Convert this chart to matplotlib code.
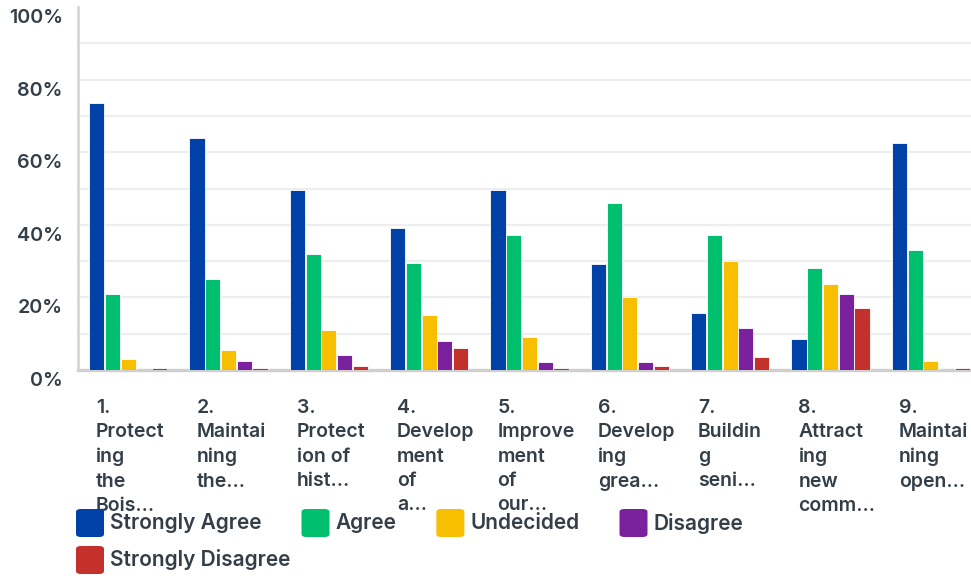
import matplotlib
matplotlib.use("Agg")
import matplotlib.pyplot as plt
from matplotlib.patches import FancyBboxPatch
from matplotlib.transforms import ScaledTranslation
import numpy as np

# ── data ──────────────────────────────────────────────────────────────────────
questions = [
    "1.\nProtect\ning\nthe\nBois...",
    "2.\nMaintai\nning\nthe...",
    "3.\nProtect\nion of\nhist...",
    "4.\nDevelop\nment\nof\na...",
    "5.\nImprove\nment\nof\nour...",
    "6.\nDevelop\ning\ngrea...",
    "7.\nBuildin\ng\nseni...",
    "8.\nAttract\ning\nnew\ncomm...",
    "9.\nMaintai\nning\nopen...",
]
answers = ["Strongly Agree", "Agree", "Undecided", "Disagree", "Strongly Disagree"]

strongly_agree    = [73.6, 63.9, 49.6, 39.1, 49.6, 29.2, 15.7,  8.5, 62.5]
agree             = [20.9, 25.1, 32.0, 29.5, 37.2, 46.0, 37.2, 28.1, 33.1]
undecided         = [ 3.0,  5.5, 11.0, 15.2,  9.1, 20.1, 30.0, 23.7,  2.5]
disagree          = [ 0.0,  2.5,  4.1,  8.0,  2.2,  2.2, 11.6, 20.9,  0.0]
strongly_disagree = [ 0.6,  0.6,  1.1,  6.1,  0.6,  1.1,  3.6, 17.1,  0.6]

yticks      = [0, 20, 40, 60, 80, 100]
ytick_texts = ["0%", "20%", "40%", "60%", "80%", "100%"]

colors = ["#0041A8", "#00BF6F", "#F8BE00", "#7A219E", "#C4302B"]
text_col = "#333e48"
font = ["Inter", "DejaVu Sans"]

# ── figure ────────────────────────────────────────────────────────────────────
W, H, DPI = 971, 576, 100
fig = plt.figure(figsize=(W / DPI, H / DPI), dpi=DPI)

# plot area: axis at x=78px, zero line at y=370px, 100% at y=7px (runs past the right edge)
ax = fig.add_axes([78 / W, (H - 370) / H, 903 / W, 363 / H])

series = [strongly_agree, agree, undecided, disagree, strongly_disagree]
x = np.arange(len(questions))
step, width = 0.157, 0.15
for k, (vals, col) in enumerate(zip(series, colors)):
    ax.bar(x + (k - 2) * step, vals, width=width, color=col,
           edgecolor="white", linewidth=0.6, zorder=3)

ax.set_xlim(-0.5, 8.5)
ax.set_ylim(0, 100)

for g in range(10, 100, 10):
    ax.axhline(g, color="#eeeeee", linewidth=1.6, zorder=1)

for side in ["top", "right"]:
    ax.spines[side].set_visible(False)
ax.spines["left"].set_color("#d3d3d3")
ax.spines["left"].set_linewidth(1.8)
ax.spines["bottom"].set_color("#cfcfcf")
ax.spines["bottom"].set_linewidth(2.4)
ax.spines["bottom"].set_zorder(2)

ax.set_xticks([])
ax.set_yticks(yticks)
ax.set_yticklabels(ytick_texts, fontsize=14.2, color=text_col,
                   fontfamily=font, fontweight="semibold")
ax.tick_params(axis="y", length=0, pad=11)
shift = ScaledTranslation(0, -9 / DPI, fig.dpi_scale_trans)
for lbl in ax.get_yticklabels():
    lbl.set_transform(lbl.get_transform() + shift)

for i, q in enumerate(questions):
    ax.text(i - 0.32, 0, q,
            transform=ax.transData + ScaledTranslation(0, -29 / DPI, fig.dpi_scale_trans),
            ha="left", va="top", fontsize=14, color=text_col,
            family=font, fontweight="semibold", linespacing=1.45, clip_on=False)

# ── legend (flowing, like the web version) ────────────────────────────────────
fig.canvas.draw()
renderer = fig.canvas.get_renderer()
rows = [answers[:4], answers[4:]]
row_y = [523, 560]
sq = 28
k = 0
for r, labels in enumerate(rows):
    xpos = 76
    yc = row_y[r]
    for name in labels:
        fig.patches.append(FancyBboxPatch(
            (xpos / W, (H - yc - sq / 2) / H), sq / W, sq / H,
            boxstyle="round,pad=0,rounding_size=0.005", transform=fig.transFigure,
            facecolor=colors[k], edgecolor="none"))
        t = fig.text((xpos + 34) / W, (H - yc) / H, name, ha="left", va="center",
                     fontsize=15, color=text_col, family=font, fontweight="semibold")
        bb = t.get_window_extent(renderer=renderer)
        xpos = bb.x1 + 40
        k += 1

fig.savefig("out.png", dpi=DPI)
